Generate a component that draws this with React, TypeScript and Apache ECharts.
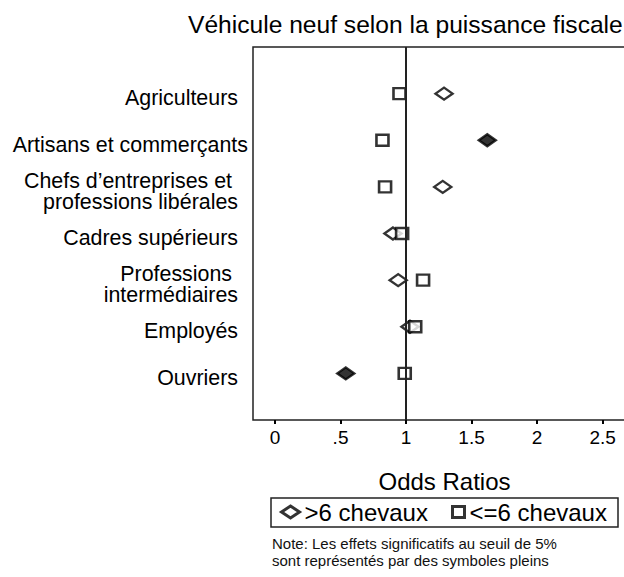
import React, { useEffect, useRef } from 'react';
import * as echarts from 'echarts';

const categories = [
  'Agriculteurs',
  'Artisans et commerçants',
  'Chefs d’entreprises et \nprofessions libérales',
  'Cadres supérieurs',
  'Professions \nintermédiaires',
  'Employés',
  'Ouvriers',
];
const over6 = [1.29, 1.62, 1.28, 0.9, 0.94, 1.03, 0.54];
const over6Signif = [false, true, false, false, false, false, true];
const under6 = [0.95, 0.82, 0.84, 0.97, 1.13, 1.07, 0.99];
const under6Signif = [false, false, false, false, false, false, false];
const xTicks = [0, 0.5, 1, 1.5, 2, 2.5];
const xTickLabels = ['0', '.5', '1', '1.5', '2', '2.5'];
const seriesNames = ['>6 chevaux', '<=6 chevaux'];
const rowValues = [1, 2, 3, 4, 5, 6, 7];

const FONT = '"Liberation Sans", Arial, sans-serif';

export default function App() {
  const ref = useRef<HTMLDivElement>(null);
  useEffect(() => {
    if (!ref.current) return;
    const chart = echarts.init(ref.current, undefined, { renderer: 'svg' });
    const n = categories.length;
    const option: any = {
      animation: false,
      backgroundColor: '#fff',
      textStyle: { fontFamily: FONT, color: '#000' },
      grid: {
        left: 253,
        top: 47,
        width: 383,
        height: 373,
        show: true,
        borderColor: '#222',
        borderWidth: 1.5,
        backgroundColor: 'transparent',
        containLabel: false,
        outerBoundsMode: 'none',
      },
      xAxis: {
        type: 'value',
        min: -0.168,
        max: 2.755,
        axisLine: { show: false },
        splitLine: { show: false },
        axisTick: {
          show: true,
          customValues: xTicks,
          length: 4,
          lineStyle: { color: '#000', width: 2 },
        },
        axisLabel: {
          customValues: xTicks,
          fontSize: 19,
          color: '#000',
          margin: 8,
          fontFamily: FONT,
          formatter: (v: number) => {
            const i = xTicks.indexOf(v);
            return i >= 0 ? xTickLabels[i] : '';
          },
        },
        name: 'Odds Ratios',
        nameLocation: 'middle',
        nameGap: 49,
        nameTextStyle: { fontSize: 24, color: '#000', fontFamily: FONT },
      },
      yAxis: {
        type: 'value',
        min: 0,
        max: 8,
        axisLine: { show: false },
        axisTick: { show: false },
        splitLine: { show: false },
        axisLabel: {
          customValues: rowValues,
          margin: 5,
          fontSize: 21.4,
          lineHeight: 21.7,
          padding: [9, 0, 0, 0],
          color: '#000',
          fontFamily: FONT,
          formatter: (v: number) => {
            const idx = n - v;
            const label = categories[idx];
            if (label === undefined) return '';
            const key = idx === 1 ? 'w' : 'n';
            return label
              .split('\n')
              .map((l) => `{${key}|${l}}`)
              .join('\n');
          },
          rich: {
            n: { fontSize: 21.4, lineHeight: 21.7, padding: [0, 10, 0, 0], fontFamily: FONT, color: '#000' },
            w: { fontSize: 21.4, lineHeight: 21.7, padding: [0, 0, 0, 0], fontFamily: FONT, color: '#000' },
          },
        },
      },
      legend: [
        {
          data: [seriesNames[0]],
          left: 280,
          top: 500,
          padding: 0,
          itemWidth: 18,
          itemHeight: 12,
          icon: 'diamond',
          textStyle: { fontSize: 24, color: '#000', fontFamily: FONT },
          itemStyle: { color: '#fff', borderColor: '#000', borderWidth: 3 },
          selectedMode: false,
        },
        {
          data: [seriesNames[1]],
          left: 451,
          top: 500,
          padding: 0,
          itemWidth: 12,
          itemHeight: 11,
          icon: 'rect',
          textStyle: { fontSize: 24, color: '#000', fontFamily: FONT },
          itemStyle: { color: '#fff', borderColor: '#000', borderWidth: 3 },
          selectedMode: false,
        },
      ],
      graphic: [
        {
          type: 'text',
          x: 188,
          y: 24,
          style: {
            text: 'Véhicule neuf selon la puissance fiscale',
            font: `24.6px ${FONT}`,
            fill: '#000',
            verticalAlign: 'middle',
          },
        },
        {
          type: 'rect',
          shape: { x: 271, y: 498, width: 347, height: 29 },
          style: { fill: 'none', stroke: '#222', lineWidth: 1.5 },
        },
        {
          type: 'text',
          x: 272,
          y: 534.5,
          style: {
            text: 'Note: Les effets significatifs au seuil de 5%\nsont représentés par des symboles pleins',
            font: `15px ${FONT}`,
            lineHeight: 17,
            fill: '#111',
            verticalAlign: 'top',
          },
        },
      ],
      series: [
        {
          name: seriesNames[0],
          type: 'scatter',
          symbol: 'diamond',
          symbolSize: [17, 12],
          itemStyle: { color: '#fff', borderColor: '#000', borderWidth: 2.5 },
          data: over6.map((v, i) => ({
            value: [v, n - i],
            itemStyle: over6Signif[i] ? { color: '#000' } : undefined,
          })),
          markLine: {
            silent: true,
            symbol: ['none', 'none'],
            label: { show: false },
            lineStyle: { color: '#222', width: 2, type: 'solid' },
            data: [{ xAxis: 1 }],
          },
          z: 3,
        },
        {
          name: seriesNames[1],
          type: 'scatter',
          symbol: 'rect',
          symbolSize: [12, 11],
          itemStyle: { color: '#fff', borderColor: '#000', borderWidth: 2.5 },
          data: under6.map((v, i) => ({
            value: [v, n - i],
            itemStyle: under6Signif[i] ? { color: '#000' } : undefined,
          })),
          z: 4,
        },
      ],
    };
    chart.setOption(option);
    return () => chart.dispose();
  }, []);
  return (
    <div
      ref={ref}
      style={{ position: 'absolute', left: 0, top: 0, width: 624, height: 577 }}
    />
  );
}
